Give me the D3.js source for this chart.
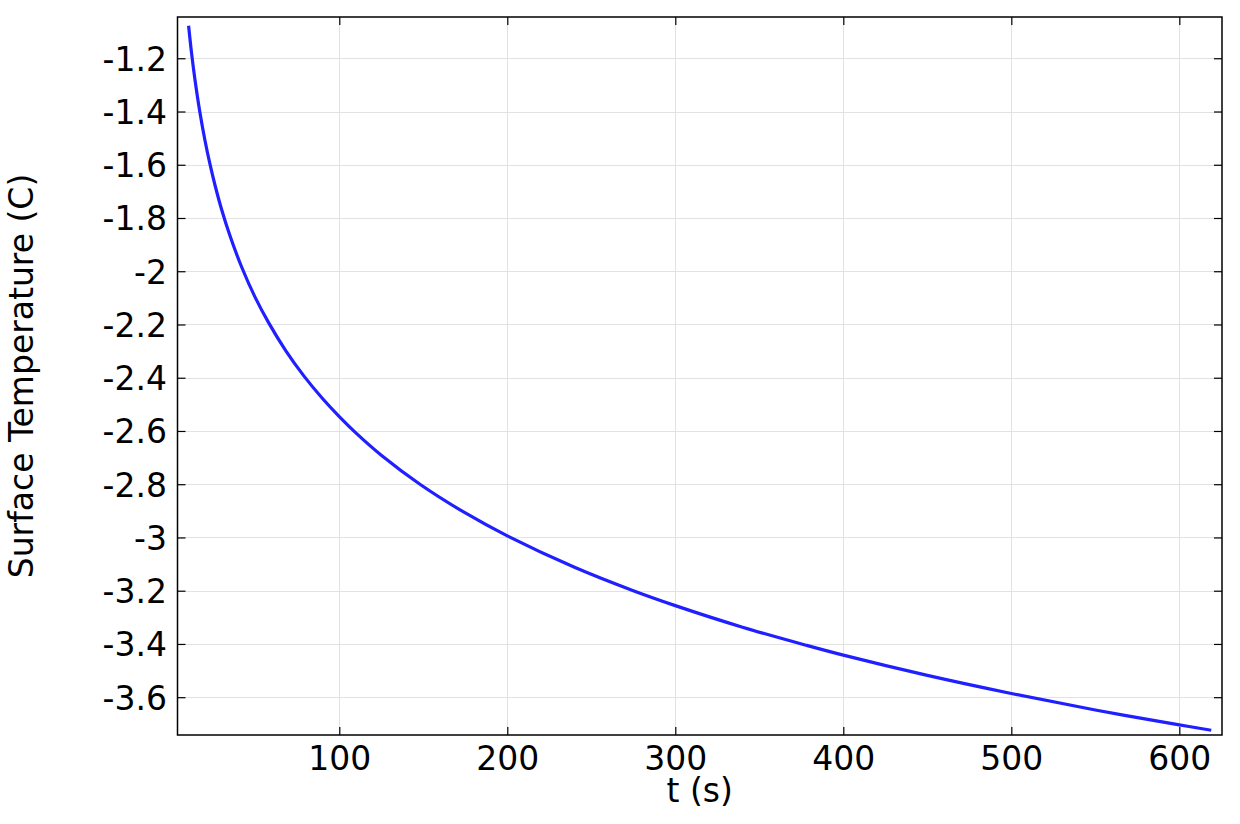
<!DOCTYPE html>
<html>
<head>
<meta charset="utf-8">
<script src="https://cdn.jsdelivr.net/npm/d3@7/dist/d3.min.js"></script>
<style>
  html, body { margin: 0; padding: 0; background: #fff; }
  svg { display: block; }
  text { font-family: "DejaVu Sans", sans-serif; fill: #000; }
</style>
</head>
<body>
<svg id="chart" width="1240" height="824"></svg>
<script>
// Data
const timeS = [10.3, 12, 14, 17, 20, 23, 26, 30, 35, 42, 50, 58, 68, 79, 90, 100, 110, 125, 148, 175, 200, 240, 275, 300, 340, 378, 400, 450, 500, 550, 600, 619];
const surfaceTempC = [-1.078, -1.177, -1.276, -1.402, -1.507, -1.597, -1.676, -1.769, -1.868, -1.986, -2.099, -2.194, -2.297, -2.394, -2.478, -2.546, -2.608, -2.691, -2.800, -2.908, -2.994, -3.112, -3.200, -3.256, -3.337, -3.405, -3.442, -3.518, -3.586, -3.648, -3.704, -3.724];
const xTicks = [100, 200, 300, 400, 500, 600];
const yTicks = [-1.2, -1.4, -1.6, -1.8, -2.0, -2.2, -2.4, -2.6, -2.8, -3.0, -3.2, -3.4, -3.6];
const xTitle = "t (s)";
const yTitle = "Surface Temperature (C)";

const svg = d3.select("#chart");
const L = 177.5, R = 1222, T = 17, B = 735;
const FS = 33;

const x = d3.scaleLinear().domain([3.7, 625.4]).range([L, R]);
const y = d3.scaleLinear().domain([-1.045, -3.742]).range([T, B]);

const fmt = d => String(+(+d).toFixed(1)).replace("\u2212", "-");

// Grid
const grid = svg.append("g");
grid.selectAll("line.gx").data(xTicks).join("line")
  .attr("x1", d => Math.round(x(d)) + 0.5).attr("x2", d => Math.round(x(d)) + 0.5)
  .attr("y1", T).attr("y2", B)
  .attr("stroke", "#e2e2e2").attr("stroke-width", 1);
grid.selectAll("line.gy").data(yTicks).join("line")
  .attr("y1", d => Math.round(y(d)) + 0.5).attr("y2", d => Math.round(y(d)) + 0.5)
  .attr("x1", L).attr("x2", R)
  .attr("stroke", "#e2e2e2").attr("stroke-width", 1);

// Curve
const data = timeS.map((t, i) => ({ t, v: surfaceTempC[i] }));
svg.append("path")
  .datum(data)
  .attr("fill", "none")
  .attr("stroke", "#1f1fff")
  .attr("stroke-width", 3.2)
  .attr("stroke-linejoin", "round")
  .attr("d", d3.line().x(d => x(d.t)).y(d => y(d.v)).curve(d3.curveCatmullRom.alpha(0.5)));

// Axes (inward ticks on all sides)
const tickLen = 8;
const axB = svg.append("g").attr("transform", `translate(0,${B})`)
  .call(d3.axisBottom(x).tickValues(xTicks).tickSize(-tickLen).tickFormat(d => String(d)));
const axT = svg.append("g").attr("transform", `translate(0,${T})`)
  .call(d3.axisTop(x).tickValues(xTicks).tickSize(-tickLen).tickFormat(""));
const axL = svg.append("g").attr("transform", `translate(${L},0)`)
  .call(d3.axisLeft(y).tickValues(yTicks).tickSize(-tickLen).tickPadding(10.5).tickFormat(fmt));
const axR = svg.append("g").attr("transform", `translate(${R},0)`)
  .call(d3.axisRight(y).tickValues(yTicks).tickSize(-tickLen).tickFormat(""));

[axB, axT, axL, axR].forEach(g => {
  g.select(".domain").remove();
  g.selectAll(".tick line").attr("stroke", "#000").attr("stroke-width", 1.2);
  g.selectAll("text").attr("font-family", "DejaVu Sans").attr("font-size", FS).attr("fill", "#000");
});
axB.selectAll("text").attr("dy", null).attr("y", 35);
axL.selectAll("text").attr("dy", "0.36em");

// Frame
svg.append("rect")
  .attr("x", L).attr("y", T).attr("width", R - L).attr("height", B - T)
  .attr("fill", "none").attr("stroke", "#000").attr("stroke-width", 1.5);

// Titles
svg.append("text")
  .attr("x", (L + R) / 2).attr("y", 802)
  .attr("text-anchor", "middle")
  .attr("font-size", FS)
  .text(xTitle);
svg.append("text")
  .attr("transform", `translate(33,${(T + B) / 2}) rotate(-90)`)
  .attr("text-anchor", "middle")
  .attr("font-size", FS)
  .text(yTitle);
</script>
</body>
</html>
